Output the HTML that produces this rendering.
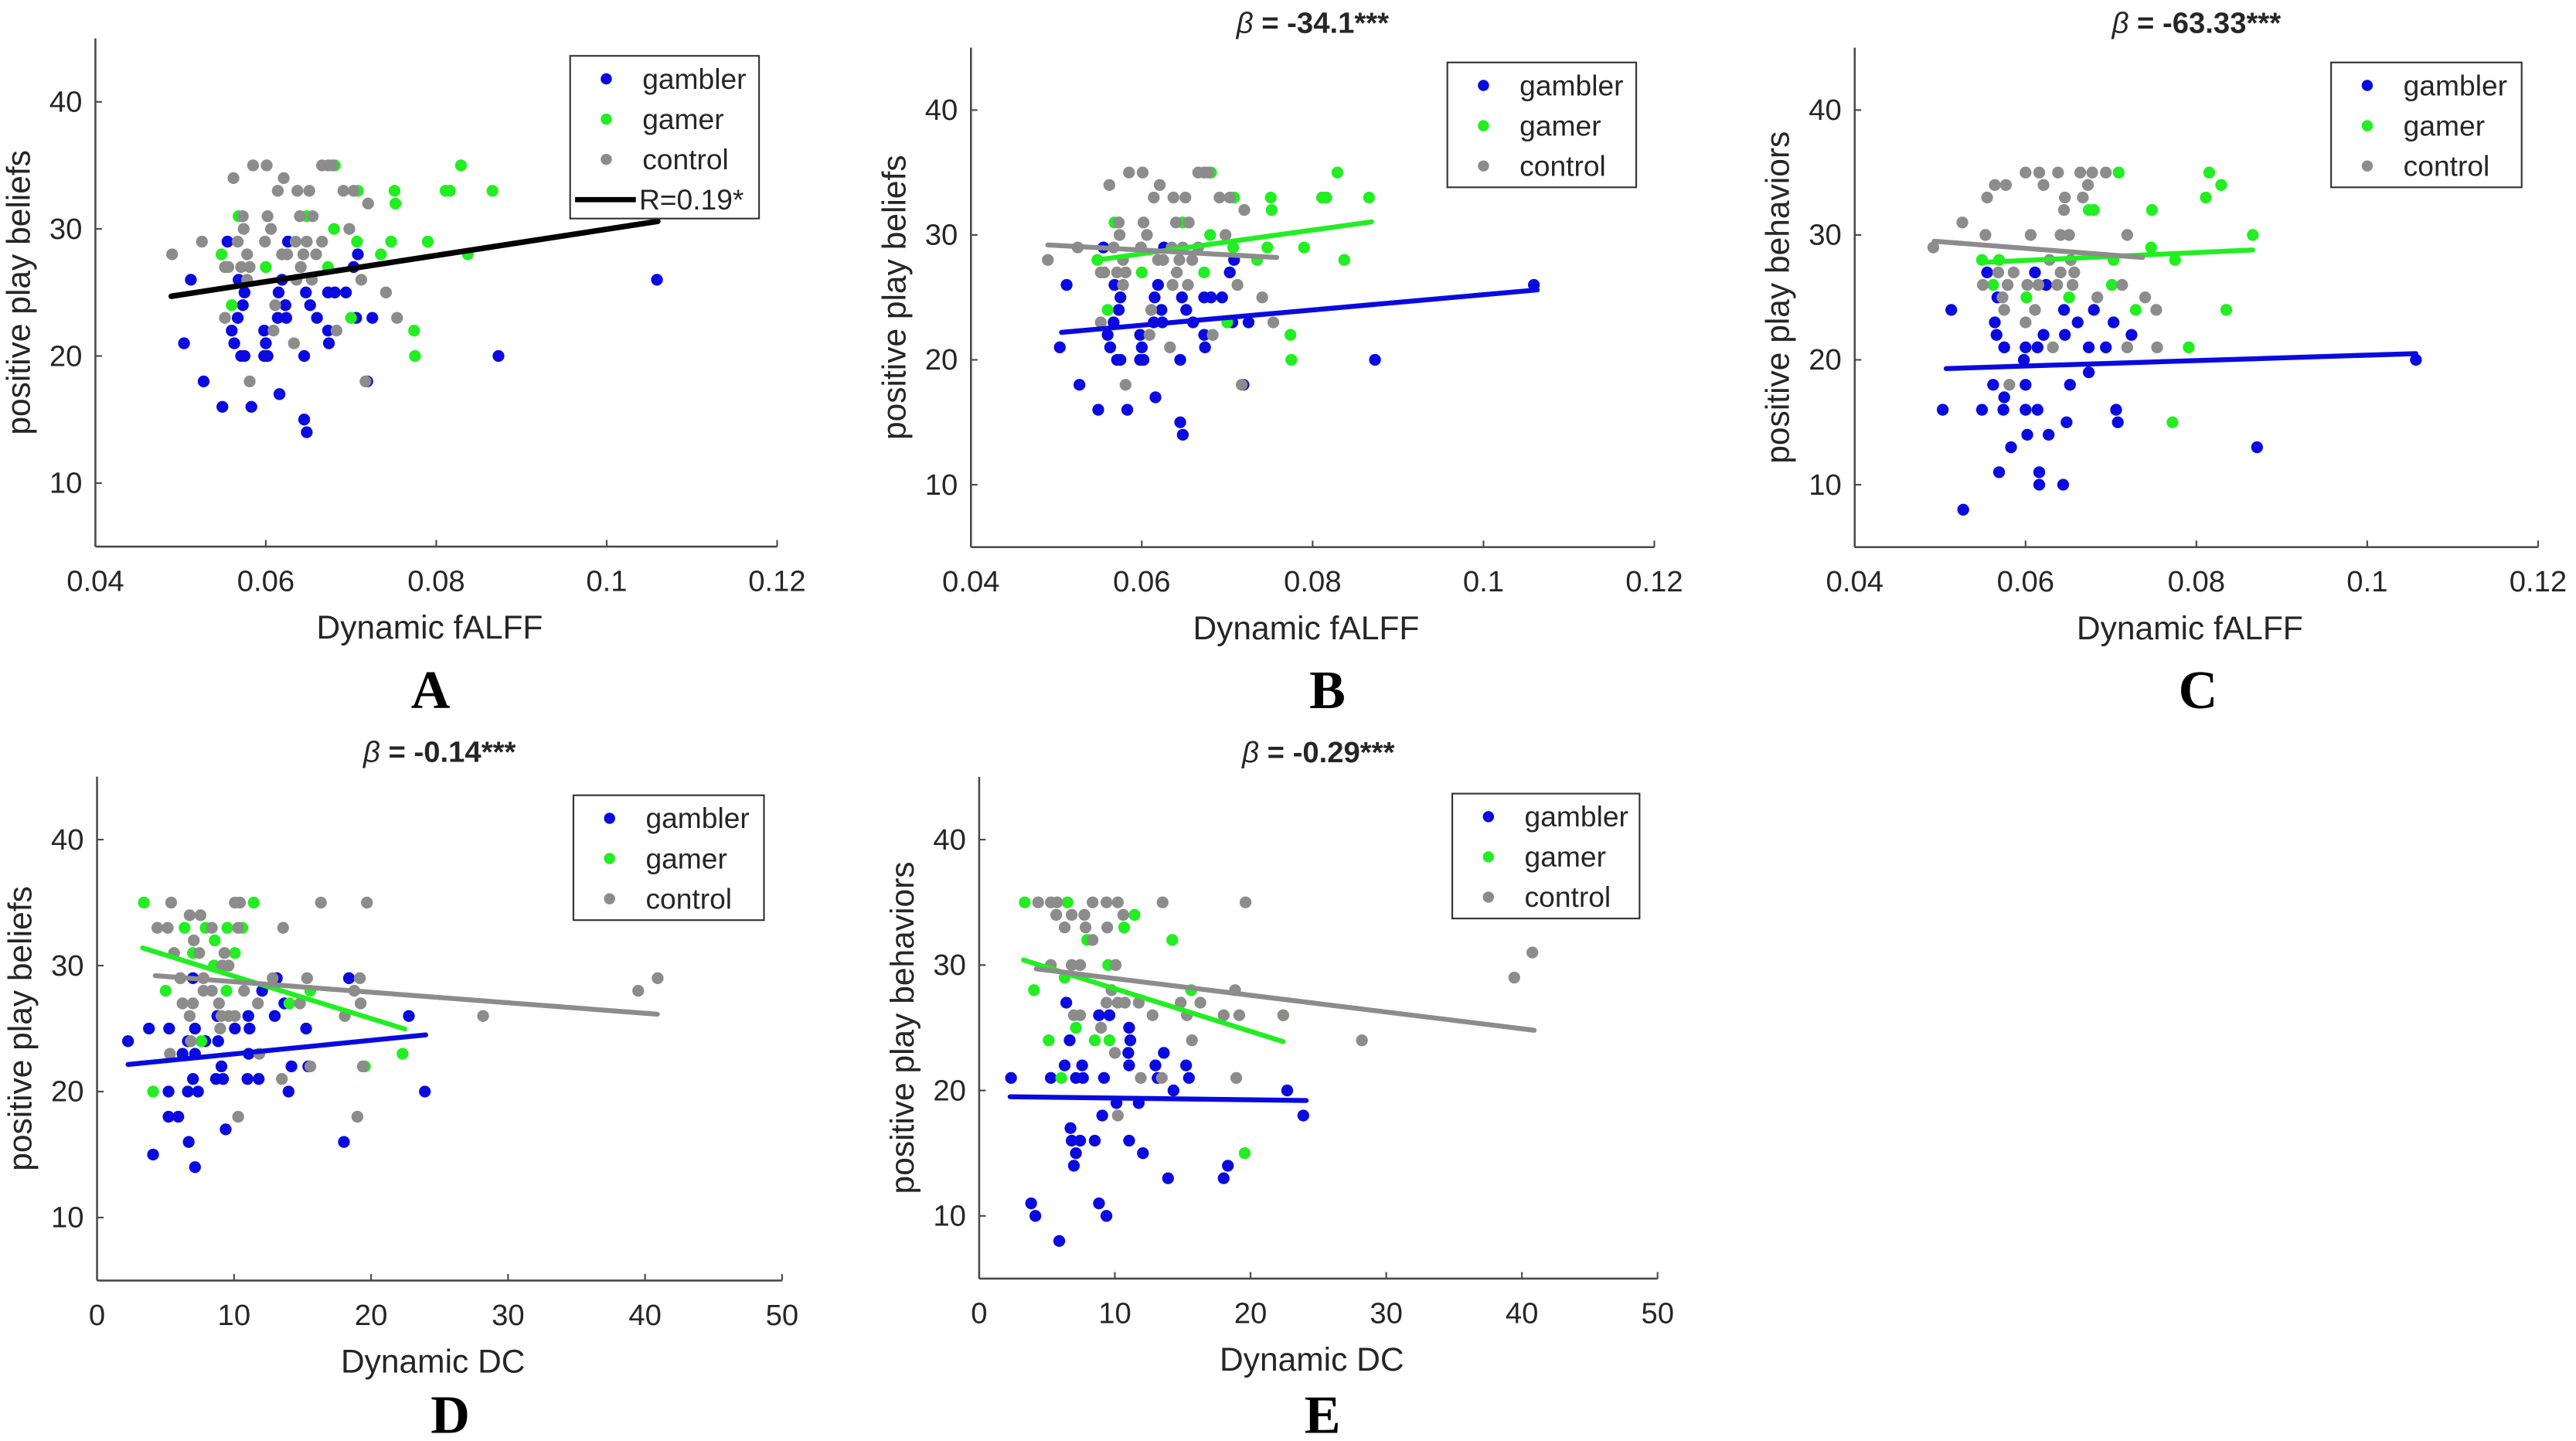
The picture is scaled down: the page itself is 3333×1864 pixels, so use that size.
<!DOCTYPE html>
<html><head><meta charset="utf-8">
<style>
html,body{margin:0;padding:0;background:#fff;}
svg{display:block;}
text{font-family:"Liberation Sans",Arial,sans-serif;fill:#262626;}
</style></head>
<body>
<svg id="fig" width="3333" height="1864" viewBox="0 0 1568 877" xmlns="http://www.w3.org/2000/svg"></svg>
<script>
// ---- data ----
const groupNames = ["gambler","gamer","control"];
const groupColors = ["#0a0ae0","#22ee22","#8c8c8c"];
const xTicksF = [0.04,0.06,0.08,0.1,0.12];
const xTickLabelsF = ["0.04","0.06","0.08","0.1","0.12"];
const xTicksD = [0,10,20,30,40,50];
const xTickLabelsD = ["0","10","20","30","40","50"];
const yTicks = [10,20,30,40];
const yTickLabels = ["10","20","30","40"];

// Panel A/B: fALFF vs beliefs
const abGamblerX = [.0512,.0504,.0527,.0549,.0583,.0555,.0568,.0575,.0573,.0567,.056,.0563,.0571,.0575,.0598,.060,.0598,.0602,.0616,.0615,.0619,.0623,.0614,.0624,.0626,.0647,.0652,.066,.0645,.0645,.0648,.0673,.0681,.0694,.0673,.0674,.0708,.0703,.0706,.0725,.0719,.0873,.1059];
const abGamblerY = [26,21,18,16,16,29,26,25,24,23,22,21,20,20,22,21,20,20,17,25,26,24,23,23,29,25,24,23,20,15,14,25,25,25,22,21,28,27,23,23,18,20,26];
const abGamerX = [.0548,.056,.0568,.060,.0648,.068,.0673,.0681,.0707,.0708,.07,.0735,.0747,.0751,.0752,.0774,.0775,.079,.0811,.0816,.0829,.0837,.0866];
const abGamerY = [28,24,31,27,31,30,27,35,29,33,23,28,29,33,32,22,20,29,33,33,35,28,33];
const abControlX = [.049,.0525,.0562,.0585,.0601,.0573,.0574,.0567,.0578,.0552,.0556,.0571,.0581,.0578,.0552,.0581,.0602,.0606,.0599,.0614,.0621,.0619,.0625,.0611,.0609,.0637,.0651,.064,.0655,.0635,.0648,.0666,.0644,.0659,.0641,.0636,.0654,.0633,.0666,.0673,.0678,.0691,.0703,.0698,.072,.0712,.0741,.0754,.0683,.0717];
const abControlY = [28,29,34,35,35,31,30,29,28,27,27,27,27,26,23,18,31,30,29,33,34,28,28,24,22,33,33,31,31,29,29,29,28,28,27,26,26,21,35,35,35,33,33,30,32,26,25,23,22,18];

// Panel C: fALFF vs behaviors
const cGamblerX = [.0513,.0555,.0611,.0624,.0567,.0564,.0566,.0575,.06,.0614,.0645,.068,.0661,.0703,.0621,.0646,.0724,.0674,.0694,.0598,.0674,.1057,.0562,.06,.0652,.0575,.0503,.0549,.0574,.06,.0614,.0706,.0648,.0708,.0602,.0627,.0583,.0871,.0569,.0616,.0616,.0644,.0527];
const cGamblerY = [24,27,27,26,25,23,22,21,21,21,24,24,23,23,22,22,22,21,21,20,19,20,18,18,18,17,16,16,16,16,16,16,15,15,14,14,13,13,11,11,10,10,8];
const cGamerX = [.0709,.0815,.0829,.0811,.0674,.068,.0748,.0866,.0747,.0549,.0569,.0703,.0775,.0562,.0701,.0601,.0651,.0729,.0835,.0791,.0772];
const cGamerY = [35,35,34,33,32,32,32,30,29,28,28,28,28,26,26,25,25,24,24,21,15];
const cControlX = [.06,.0616,.0638,.0664,.0678,.0694,.0564,.0577,.0621,.0673,.0555,.0646,.0667,.0645,.0526,.0553,.0606,.0641,.0651,.0719,.0492,.0628,.0653,.0568,.0586,.0641,.0657,.055,.0579,.0602,.0615,.0637,.0655,.0713,.0573,.0684,.074,.0575,.0611,.0753,.06,.0632,.0719,.0754,.0581];
const cControlY = [35,35,35,35,35,35,34,34,34,34,33,33,33,32,31,30,30,30,30,30,29,28,28,27,27,27,27,26,26,26,26,26,26,26,25,25,25,24,24,24,23,21,21,21,18];

// Panel D: DC vs beliefs
const dGamblerX = [2.26,3.79,5.26,7.15,7.0,6.63,8.84,6.24,7.15,7.9,8.78,10.06,11.04,11.13,12.97,12.05,13.12,13.67,15.26,18.39,22.76,11.07,9.08,7.0,8.68,9.2,10.98,11.8,14.19,15.42,5.22,6.63,7.37,13.98,23.93,5.22,5.93,9.39,6.69,18.02,4.09,7.15];
const dGamblerY = [24,25,25,25,29,24,24,23,23,24,26,25,26,25,26,28,29,27,25,29,26,23,22,21,21,21,21,21,22,22,20,20,20,20,20,18,18,17,16,16,15,14];
const dGamerX = [3.42,11.44,6.39,7.92,9.51,10.61,8.59,7.0,10.06,8.53,6.08,5.01,9.45,14.04,15.57,7.61,22.3,19.55,4.09];
const dGamerY = [35,35,33,33,33,33,32,31,31,30,29,28,28,27,28,24,23,22,20];
const dControlX = [5.41,10.06,10.43,16.34,19.7,6.76,7.55,4.4,5.16,8.38,10.3,13.58,7.06,5.62,7.46,9.3,9.14,9.6,6.08,7.77,12.82,15.33,19.18,40.92,39.5,7.77,8.38,10.73,18.78,6.24,7.0,8.9,11.74,14.81,19.24,6.76,9.08,9.6,10.06,18.08,28.18,8.99,6.85,5.32,11.84,15.57,19.4,13.49,10.3,19.0];
const dControlY = [35,35,35,35,35,34,34,33,33,33,33,33,32,31,31,31,30,30,29,29,29,29,29,29,28,28,28,28,28,27,27,27,27,27,27,26,26,26,26,26,26,25,24,23,23,22,22,21,18,18];

// Panel E: DC vs behaviors
const eGamblerX = [2.35,5.28,7.13,7.65,9.2,6.3,7.59,6.67,6.42,8.83,9.6,11.05,11.14,10.99,11.05,13.61,12.99,13.15,15.25,15.46,14.32,22.7,10.12,11.76,9.07,23.89,6.73,6.82,7.44,8.52,11.05,12.07,7.13,6.98,18.33,13.92,18.02,3.83,8.83,4.14,9.38,5.9];
const eGamblerY = [21,21,21,21,21,22,22,24,27,26,26,25,24,23,22,23,22,21,22,21,20,20,19,19,18,18,17,16,16,16,16,15,15,14,14,13,13,11,11,10,10,8];
const eGamerX = [3.36,6.51,11.45,10.68,7.96,14.23,9.51,6.3,4.04,15.62,22.41,7.13,5.12,8.52,9.6,6.05,19.57];
const eGamerY = [35,35,34,33,32,32,30,29,28,28,26,25,24,24,24,21,15];
const eControlX = [4.35,5.28,5.74,8.36,9.38,10.22,13.52,19.63,5.68,6.82,7.75,10.62,6.3,7.84,9.44,8.36,40.77,5.28,6.82,7.44,10.06,39.44,18.86,9.75,9.38,10.22,10.74,11.76,14.85,16.3,6.98,7.44,12.78,15.31,18.02,19.17,22.41,8.98,15.68,28.21,10.0,11.91,13.46,18.95,10.22];
const eControlY = [35,35,35,35,35,35,35,35,34,34,34,34,33,33,33,32,31,30,30,30,30,29,28,28,27,27,27,27,27,27,26,26,26,26,26,26,26,25,24,24,23,21,21,21,18];

// fit lines [x0,y0,x1,y1]
const aFitAll = [0.0489,24.7,0.106,30.6];
const bFitGambler = [0.0506,22.2,0.1063,25.6];
const bFitGamer = [0.0548,28.0,0.0869,31.05];
const bFitControl = [0.049,29.2,0.0758,28.2];
const cFitGambler = [0.0507,19.3,0.1057,20.5];
const cFitGamer = [0.0549,27.8,0.0866,28.8];
const cFitControl = [0.0493,29.5,0.0737,28.2];
const dFitGambler = [2.26,22.15,23.99,24.5];
const dFitGamer = [3.33,31.4,22.46,24.97];
const dFitControl = [4.25,29.2,40.9,26.14];
const eFitGambler = [2.28,19.5,24.1,19.2];
const eFitGamer = [3.27,30.4,22.4,23.9];
const eFitControl = [4.2,29.7,40.9,24.8];

// ---- drawing ----
const NS = "http://www.w3.org/2000/svg";
const svg = document.getElementById("fig");
function mk(tag, attrs, parent){
  const e = document.createElementNS(NS, tag);
  for (const k in attrs) e.setAttribute(k, attrs[k]);
  (parent||svg).appendChild(e);
  return e;
}

function panel(cfg){
  const g = mk("g", {});
  
  
  const sx = v => cfg.px0 + (v - cfg.x0)/(cfg.x1 - cfg.x0)*(cfg.px1 - cfg.px0);
  const sy = v => cfg.py10 + (10 - v)/30*(cfg.py10 - cfg.py40);
  const bottom = sy(5), top = sy(45);
  const axc = "#4a4a4a";
  const ax = mk("line", {x1:cfg.px0, y1:bottom, x2:cfg.px1, y2:bottom, stroke:axc,"stroke-width":1.2}, g);
  
  
  const ay = mk("line", {x1:cfg.px0, y1:bottom, x2:cfg.px0, y2:top, stroke:axc,"stroke-width":1.2}, g);
  
  
  cfg.xt.forEach((t,i)=>{
    const x = sx(t);
    mk("line",{x1:x,y1:bottom,x2:x,y2:bottom-4,stroke:axc,"stroke-width":1},g);
    const tx = mk("text",{x:x,y:bottom+27,"text-anchor":"middle","font-size":18},g);
    tx.textContent = cfg.xl[i];
    
    
  });
  yTicks.forEach((t,i)=>{
    const y = sy(t);
    mk("line",{x1:cfg.px0,y1:y,x2:cfg.px0+4,y2:y,stroke:axc,"stroke-width":1},g);
    const tx = mk("text",{x:cfg.px0-8,y:y+6,"text-anchor":"end","font-size":18},g);
    tx.textContent = yTickLabels[i];
    
    
  });
  const xl = mk("text",{x:(cfg.px0+cfg.px1)/2 - 4,y:bottom+56,"text-anchor":"middle","font-size":20},g);
  xl.textContent = cfg.xlabel;
  
  
  const ycx = cfg.px0 - 40, ycy = (top+bottom)/2;
  const yl = mk("text",{x:ycx,y:ycy,"text-anchor":"middle","font-size":20,transform:`rotate(-90 ${ycx} ${ycy})`},g);
  yl.textContent = cfg.ylabel;
  
  
  if (cfg.title){
    const tt = mk("text",{x:(cfg.px0+cfg.px1)/2 + cfg.titleDx,y:top-9,"text-anchor":"middle","font-size":18,"font-weight":"bold"},g);
    const b = mk("tspan",{"font-style":"italic","font-weight":"normal"},tt);
    b.textContent = "β";
    const r = mk("tspan",{},tt);
    r.textContent = " = " + cfg.title;
    
    
  }
  cfg.series.forEach((s,gi)=>{
    const sg = mk("g",{fill:groupColors[gi]},g);
    
    
    s[0].forEach((xv,i)=>{
      const c = mk("circle",{cx:sx(xv),cy:sy(s[1][i]),r:3.6},sg);
      
      
    });
  });
  cfg.fits.forEach(f=>{
    const l = mk("line",{x1:sx(f.d[0]),y1:sy(f.d[1]),x2:sx(f.d[2]),y2:sy(f.d[3]),stroke:f.c,"stroke-width":f.w,"stroke-linecap":"round"},g);
    
    
  });
  const L = cfg.legend;
  const lg = mk("g",{},g);
  
  
  mk("rect",{x:L.x,y:L.y,width:L.w,height:L.h,fill:"#fff",stroke:"#333","stroke-width":1},lg);
  groupNames.forEach((n,i)=>{
    const yy = L.y + 14 + i*24.5;
    const e = mk("g",{},lg);
    
    
    mk("circle",{cx:L.x+22,cy:yy,r:3.4,fill:groupColors[i]},e);
    const t = mk("text",{x:L.x+44,y:yy+6,"font-size":17.5},e);
    t.textContent = n;
  });
  if (L.line){
    const yy = L.y + 14 + 3*24.5;
    const e = mk("g",{},lg);
    
    
    mk("line",{x1:L.x+3,y1:yy,x2:L.x+40,y2:yy,stroke:"#000","stroke-width":3.2},e);
    const t = mk("text",{x:L.x+42,y:yy+6,"font-size":17.5},e);
    t.textContent = L.line;
  }
  const lt = mk("text",{x:cfg.letterX,y:cfg.letterY,"text-anchor":"middle","font-size":33,"font-weight":"bold",style:"font-family:'Liberation Serif',serif;fill:#000"},g);
  lt.textContent = cfg.letter;
  
  
}

const C = groupColors;
panel({id:"a",px0:58,px1:473,x0:0.04,x1:0.12,py10:294,py40:62,xt:xTicksF,xl:xTickLabelsF,
  xlabel:"Dynamic fALFF",ylabel:"positive play beliefs",title:null,
  series:[[abGamblerX,abGamblerY],[abGamerX,abGamerY],[abControlX,abControlY]],
  fits:[{d:aFitAll,c:"#000",w:3.4,n:"fit-line-all"}],
  legend:{x:347,y:34,w:115,h:99,line:"R=0.19*"},letter:"A",letterX:262,letterY:431});
panel({id:"b",px0:591,px1:1007,x0:0.04,x1:0.12,py10:295,py40:67,xt:xTicksF,xl:xTickLabelsF,
  xlabel:"Dynamic fALFF",ylabel:"positive play beliefs",title:"-34.1***",titleDx:0,
  series:[[abGamblerX,abGamblerY],[abGamerX,abGamerY],[abControlX,abControlY]],
  fits:[{d:bFitGambler,c:C[0],w:3,n:"fit-line-gambler"},{d:bFitGamer,c:C[1],w:3,n:"fit-line-gamer"},{d:bFitControl,c:C[2],w:3,n:"fit-line-control"}],
  legend:{x:881,y:38,w:115,h:76},letter:"B",letterX:808,letterY:431});
panel({id:"c",px0:1129,px1:1545,x0:0.04,x1:0.12,py10:295,py40:67,xt:xTicksF,xl:xTickLabelsF,
  xlabel:"Dynamic fALFF",ylabel:"positive play behaviors",title:"-63.33***",titleDx:0,
  series:[[cGamblerX,cGamblerY],[cGamerX,cGamerY],[cControlX,cControlY]],
  fits:[{d:cFitGambler,c:C[0],w:3,n:"fit-line-gambler"},{d:cFitGamer,c:C[1],w:3,n:"fit-line-gamer"},{d:cFitControl,c:C[2],w:3,n:"fit-line-control"}],
  legend:{x:1419,y:38,w:116,h:76},letter:"C",letterX:1338,letterY:431});
panel({id:"d",px0:59,px1:476,x0:0,x1:50,py10:741,py40:511,xt:xTicksD,xl:xTickLabelsD,
  xlabel:"Dynamic DC",ylabel:"positive play beliefs",title:"-0.14***",titleDx:0,
  series:[[dGamblerX,dGamblerY],[dGamerX,dGamerY],[dControlX,dControlY]],
  fits:[{d:dFitGambler,c:C[0],w:3,n:"fit-line-gambler"},{d:dFitGamer,c:C[1],w:3,n:"fit-line-gamer"},{d:dFitControl,c:C[2],w:3,n:"fit-line-control"}],
  legend:{x:349,y:484,w:116,h:76},letter:"D",letterX:274,letterY:872});
panel({id:"e",px0:596,px1:1009,x0:0,x1:50,py10:740,py40:511,xt:xTicksD,xl:xTickLabelsD,
  xlabel:"Dynamic DC",ylabel:"positive play behaviors",title:"-0.29***",titleDx:0,
  series:[[eGamblerX,eGamblerY],[eGamerX,eGamerY],[eControlX,eControlY]],
  fits:[{d:eFitGambler,c:C[0],w:3,n:"fit-line-gambler"},{d:eFitGamer,c:C[1],w:3,n:"fit-line-gamer"},{d:eFitControl,c:C[2],w:3,n:"fit-line-control"}],
  legend:{x:884,y:483,w:114,h:76},letter:"E",letterX:805,letterY:872});
</script>
</body></html>
